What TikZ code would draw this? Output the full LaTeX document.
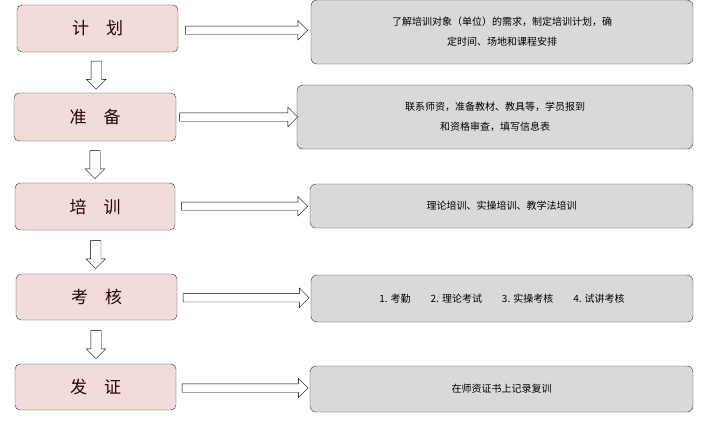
\documentclass[tikz,border=0pt]{standalone}
\usepackage{fontspec}
\setmainfont{Noto Sans CJK SC}
\usetikzlibrary{shapes.arrows,calc}
\definecolor{stagefill}{HTML}{F2DCDB}
\definecolor{infofill}{HTML}{D9D9D9}
\tikzset{
  stage/.style={draw=black!80,rounded corners=5pt,fill=stagefill,inner sep=0pt,font=\fontsize{17}{20}\selectfont,text=black!85!red},
  info/.style={draw=black!80,rounded corners=6pt,fill=infofill,inner sep=0pt,align=center,font=\fontsize{10}{20}\selectfont},
  harrow/.style={draw,fill=white,single arrow,single arrow head extend=5.5pt,minimum height=#1,inner sep=4pt,shape border rotate=0},
  varrow/.style={draw,fill=white,single arrow,single arrow head extend=4.5pt,minimum height=#1,inner sep=5pt,shape border rotate=270}
}
\begin{document}
\begin{tikzpicture}[x=1pt,y=-1pt]
  \useasboundingbox (0,0) rectangle (715,429);
  % left column
  \node[stage,minimum width=161pt,minimum height=47pt] (jh) at (97.5,28.5) {计\quad 划};
  \node[stage,minimum width=162pt,minimum height=48pt] (zb) at (95,117) {准\quad 备};
  \node[stage,minimum width=160pt,minimum height=47pt] (px) at (95,206.5) {培\quad 训};
  \node[stage,minimum width=161pt,minimum height=46pt] (kh) at (96.5,297) {考\quad 核};
  \node[stage,minimum width=161pt,minimum height=46pt] (fz) at (95.5,387) {发\quad 证};
  % right column
  \node[info,minimum width=382pt,minimum height=64pt] (jhr) at (502,32) {了解培训对象（单位）的需求，制定培训计划，确\\定时间、场地和课程安排};
  \node[info,minimum width=396pt,minimum height=64pt] (zbr) at (495,117) {联系师资，准备教材、教具等，学员报到\\和资格审查，填写信息表};
  \node[info,minimum width=383pt,minimum height=44pt] (pxr) at (501.5,206) {理论培训、实操培训、教学法培训};
  \node[info,minimum width=382pt,minimum height=47pt] (khr) at (502,298.5) {1. 考勤\qquad 2. 理论考试\qquad 3. 实操考核\qquad 4. 试讲考核};
  \node[info,minimum width=383pt,minimum height=46pt] (fzr) at (501.5,389) {\raisebox{-8pt}{在师资证书上记录复训}};
  % arrows right
  \node[harrow=122pt] (a1) at ($(jh.east)!0.5!(jhr.west)$) {};
  \node[harrow=118pt] (a2) at ($(zb.east)!0.5!(zbr.west)$) {};
  \node[harrow=126pt] (a3) at ($(px.east)!0.5!(pxr.west)$) {};
  \node[harrow=126pt] (a4) at ($(kh.east)!0.5!(khr.west)$) {};
  \node[harrow=126pt] (a5) at ($(fz.east)!0.5!(fzr.west)$) {};
  % arrows down
  \node[varrow=28pt] (d1) at ($(jh.south)!0.5!(zb.north)$) {};
  \node[varrow=28pt] (d2) at ($(zb.south)!0.5!(px.north)$) {};
  \node[varrow=28pt] (d3) at ($(px.south)!0.5!(kh.north)$) {};
  \node[varrow=28pt] (d4) at ($(kh.south)!0.5!(fz.north)$) {};
\end{tikzpicture}
\end{document}
